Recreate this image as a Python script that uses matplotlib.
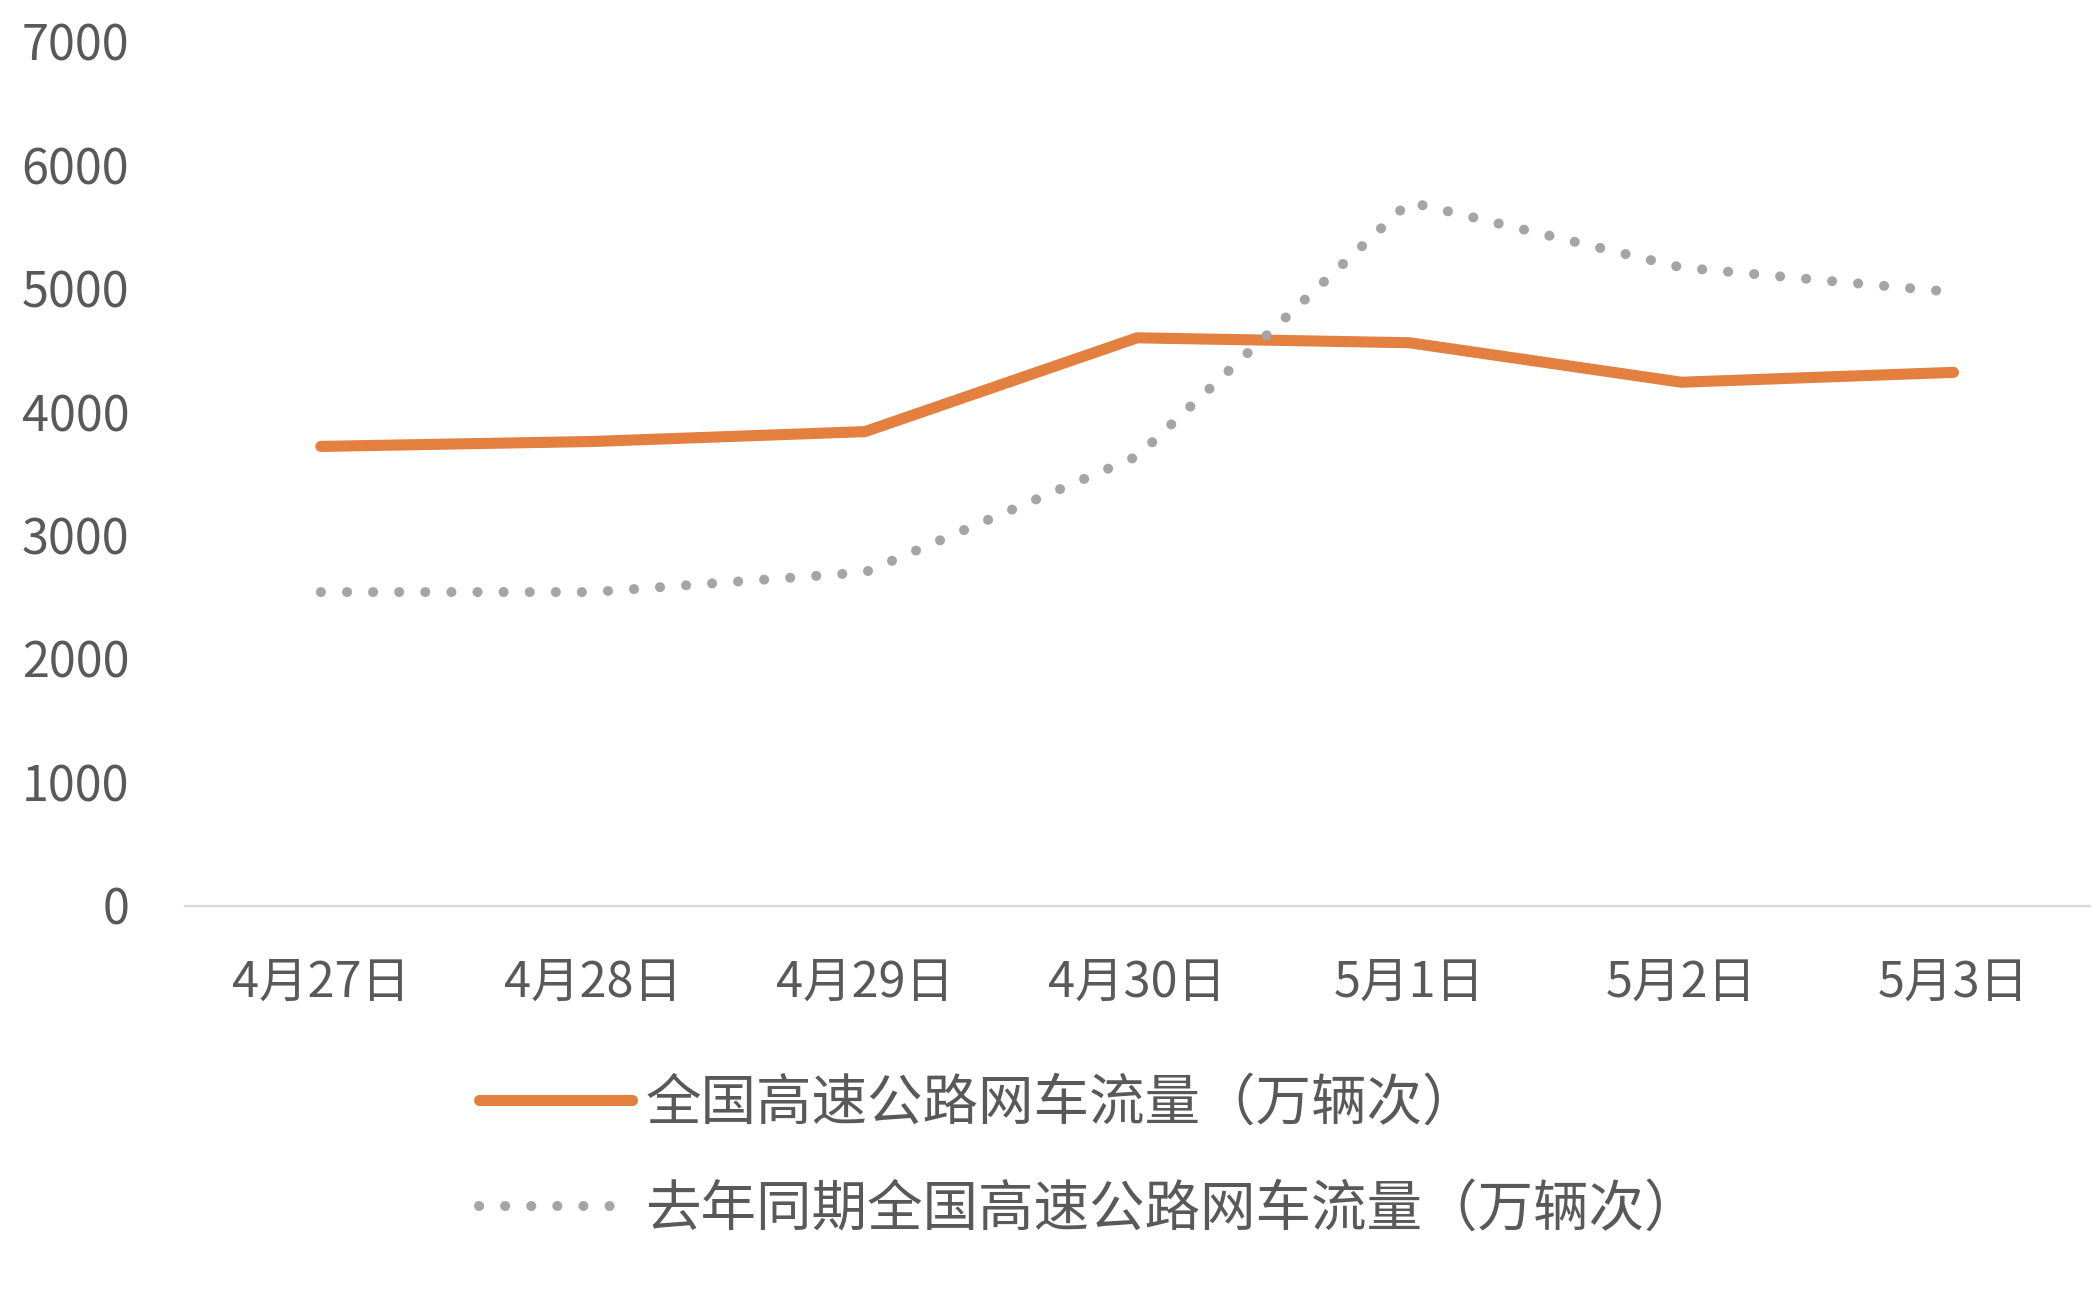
import matplotlib
matplotlib.use("Agg")
import matplotlib.pyplot as plt

plt.rcParams['font.family'] = ['Noto Sans CJK SC', 'DejaVu Sans']

dates = ["4月27日", "4月28日", "4月29日", "4月30日", "5月1日", "5月2日", "5月3日"]
flow_this_year = [3720, 3760, 3840, 4600, 4560, 4240, 4320]
flow_last_year = [2540, 2540, 2700, 3640, 5700, 5170, 4970]
label_this = "全国高速公路网车流量（万辆次）"
label_last = "去年同期全国高速公路网车流量（万辆次）"
yticks = [0, 1000, 2000, 3000, 4000, 5000, 6000, 7000]

text_color = "#595959"

fig = plt.figure(figsize=(10.5, 6.54), dpi=200)
ax = fig.add_axes([0.088, 0.3077, 0.907, 0.6605])

x = list(range(len(dates)))
ax.plot(x, flow_this_year, color="#E3803F", linewidth=4,
        solid_capstyle="round", solid_joinstyle="round", label=label_this)
ax.plot(x, flow_last_year, color="#A5A5A5", linewidth=3.6,
        linestyle=(0, (0.01, 2.6)), dash_capstyle="round", label=label_last)

ax.set_xlim(-0.5, len(dates) - 0.5)
ax.set_ylim(0, 7000)
ax.set_xticks(x)
ax.set_xticklabels(dates)
ax.set_yticks(yticks)

for side in ["top", "right", "left"]:
    ax.spines[side].set_visible(False)
ax.spines["bottom"].set_color("#D9D9D9")
ax.spines["bottom"].set_linewidth(0.8)

ax.tick_params(axis="both", length=0, labelsize=17.5, labelcolor=text_color)
ax.tick_params(axis="y", pad=20)
ax.tick_params(axis="x", pad=19)

leg = fig.legend(loc="upper left", bbox_to_anchor=(0.228, 0.178),
                 frameon=False, fontsize=20, handlelength=2.75,
                 handletextpad=0.25, labelspacing=0.87, borderpad=0,
                 borderaxespad=0)
for t in leg.get_texts():
    t.set_color(text_color)

fig.savefig("out.png", dpi=200)
